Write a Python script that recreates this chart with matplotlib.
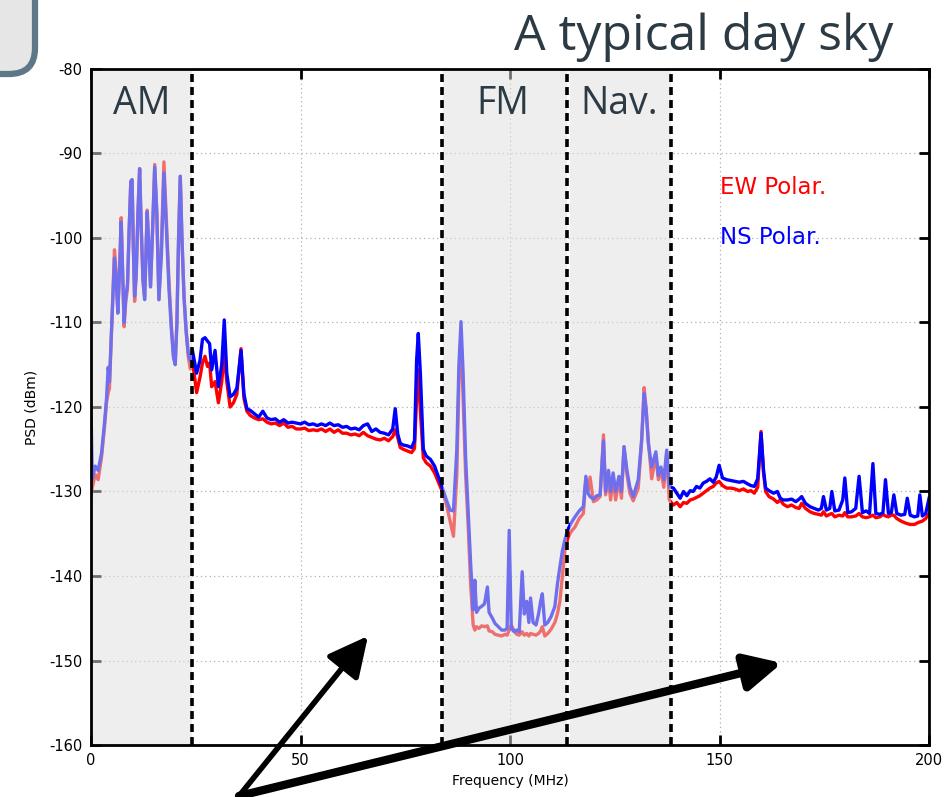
import matplotlib
matplotlib.use("Agg")
import matplotlib.pyplot as plt
from matplotlib.patches import FancyBboxPatch
from matplotlib.transforms import IdentityTransform

# Spectrum samples: frequency (MHz), EW and NS polarisation PSD (dBm)
freq_mhz = [
    0.0, 0.3, 1.0, 1.7, 2.5, 3.2, 3.7, 4.1, 4.4, 4.9, 5.6, 6.0, 6.4, 6.8, 7.2, 7.6, 7.9, 8.3, 8.7, 9.1,
    9.5, 9.8, 10.1, 10.4, 10.8, 11.2, 11.6, 12.0, 12.4, 12.8, 13.1, 13.4, 13.8, 14.2, 14.7, 15.2, 15.7, 16.2, 16.8, 17.4,
    18.0, 18.6, 19.2, 19.7, 20.1, 20.5, 20.9, 21.3, 21.7, 22.2, 22.7, 23.2, 23.7, 24.2, 25.2, 26.0, 26.6, 27.2, 27.8, 28.3,
    28.8, 29.6, 30.4, 31.2, 31.8, 32.4, 33.2, 34.0, 34.8, 35.8, 36.5, 37.2, 38.0, 39.0, 40.0, 41.0, 42.0, 43.0, 44.0, 45.0,
    46.0, 47.0, 48.0, 49.0, 50.0, 51.0, 52.0, 53.0, 54.0, 55.0, 56.0, 57.0, 58.0, 59.0, 60.0, 61.0, 62.0, 63.0, 64.0, 65.0,
    66.0, 67.0, 68.0, 69.0, 70.0, 71.0, 72.0, 72.6, 73.2, 73.8, 74.5, 75.5, 76.5, 77.2, 77.7, 78.1, 78.6, 79.3, 80.0, 81.0,
    82.0, 83.0, 84.0, 84.8, 85.7, 86.5, 87.3, 87.8, 88.3, 88.8, 89.4, 90.0, 90.6, 91.2, 91.6, 92.0, 92.6, 93.2, 93.9, 94.6,
    95.0, 95.8, 96.4, 97.2, 98.0, 98.8, 99.3, 99.8, 100.3, 101.0, 101.6, 102.2, 102.9, 103.4, 104.0, 104.5, 104.9, 105.5, 106.2, 106.8,
    107.3, 107.7, 108.3, 109.0, 109.8, 110.7, 111.3, 111.9, 112.5, 113.1, 113.8, 114.5, 115.5, 116.5, 117.5, 118.1, 118.6, 119.1, 119.9, 120.7,
    121.5, 122.3, 122.8, 123.5, 124.0, 124.6, 125.2, 126.0, 126.6, 127.2, 127.9, 128.6, 129.4, 130.6, 131.4, 132.0, 132.5, 133.0, 133.8, 134.8,
    135.4, 136.0, 136.7, 137.4, 138.0, 139.0, 139.8, 140.6, 141.4, 142.2, 143.0, 143.7, 144.5, 145.3, 146.1, 146.9, 147.7, 148.5, 149.2, 149.9,
    150.7, 151.7, 152.7, 153.7, 154.7, 155.7, 156.7, 157.5, 158.3, 159.1, 159.9, 160.5, 161.0, 161.8, 162.9, 163.8, 164.5, 165.2, 166.2, 167.2,
    168.2, 169.0, 169.6, 170.5, 171.6, 172.6, 173.6, 174.3, 174.8, 175.5, 176.3, 176.8, 177.5, 178.5, 179.4, 179.9, 180.6, 181.5, 182.5, 183.3,
    184.1, 185.0, 185.8, 186.6, 187.3, 188.3, 189.0, 189.6, 190.3, 191.0, 191.6, 192.3, 193.3, 194.2, 194.8, 195.5, 196.5, 197.3, 197.8, 198.4,
    199.2, 200.0,
]

ns_dbm = [
    -120.0, -128.5, -127.0, -127.5, -125.5, -122.0, -119.0, -115.3, -117.0, -111.0, -102.4, -105.0, -108.9, -104.0, -98.1, -105.0, -110.0, -107.0, -105.5, -99.0,
    -93.3, -93.1, -101.0, -106.9, -104.0, -97.0, -91.8, -99.0, -105.0, -107.3, -102.0, -96.9, -101.0, -105.8, -99.0, -91.6, -97.0, -107.3, -102.0, -92.3,
    -99.0, -106.0, -111.0, -114.2, -115.0, -110.0, -100.0, -92.7, -100.0, -107.0, -111.0, -113.6, -114.5, -113.3, -116.0, -114.5, -112.0, -111.8, -112.2, -112.5,
    -115.6, -113.3, -117.6, -115.0, -109.7, -116.0, -118.8, -118.5, -117.8, -113.3, -118.5, -120.2, -120.4, -120.8, -121.2, -120.5, -121.3, -121.5, -121.4, -121.8,
    -121.5, -121.9, -121.8, -121.9, -122.0, -121.8, -122.1, -122.0, -122.2, -122.0, -122.2, -121.9, -122.2, -122.1, -122.4, -122.3, -122.6, -122.5, -122.7, -122.2,
    -122.0, -122.9, -122.6, -123.0, -123.1, -123.3, -122.6, -120.2, -123.2, -124.3, -124.5, -124.6, -124.8, -124.0, -114.5, -111.3, -116.0, -125.0, -125.8, -126.2,
    -127.0, -128.4, -129.8, -131.0, -132.2, -132.3, -125.0, -115.0, -109.9, -116.0, -126.0, -132.2, -138.5, -144.0, -140.5, -144.3, -143.8, -143.6, -143.3, -141.3,
    -144.3, -145.0, -145.6, -146.0, -146.4, -146.4, -146.2, -134.6, -146.2, -146.6, -146.4, -146.6, -139.5, -144.5, -143.0, -145.5, -142.6, -145.5, -145.8, -144.5,
    -143.0, -142.1, -145.8, -145.5, -144.8, -143.6, -141.0, -138.9, -137.0, -135.7, -134.5, -133.8, -133.0, -132.3, -131.8, -128.2, -130.2, -130.6, -130.9, -130.5,
    -130.4, -124.0, -130.0, -127.5, -130.0, -127.8, -130.0, -128.2, -130.0, -124.7, -127.5, -129.5, -130.6, -128.6, -124.0, -118.4, -120.5, -124.3, -127.1, -125.3,
    -128.1, -127.1, -128.6, -125.1, -129.4, -129.6, -130.2, -130.8, -130.0, -130.5, -129.9, -130.0, -129.4, -129.6, -129.0, -128.8, -128.5, -128.9, -128.3, -126.9,
    -128.4, -128.6, -128.7, -128.8, -128.9, -128.8, -129.1, -129.3, -129.4, -128.5, -123.1, -127.5, -129.6, -129.9, -130.2, -130.0, -130.8, -131.0, -131.0, -130.9,
    -131.2, -130.9, -130.6, -131.4, -131.8, -132.0, -132.2, -132.0, -130.6, -132.2, -132.0, -130.0, -132.3, -132.2, -131.0, -128.4, -132.5, -132.4, -132.0, -128.2,
    -132.5, -132.3, -132.6, -126.7, -132.6, -132.7, -132.5, -128.6, -132.6, -132.5, -130.4, -132.6, -132.8, -132.7, -130.8, -132.8, -133.0, -132.9, -130.4, -132.9,
    -132.6, -130.8,
]

ew_dbm = [
    -130.5, -129.5, -128.0, -128.6, -126.0, -122.5, -119.5, -118.3, -117.8, -111.0, -101.4, -104.0, -108.5, -104.0, -97.6, -105.0, -110.5, -107.5, -106.0, -99.0,
    -93.3, -93.1, -101.0, -107.5, -104.5, -97.0, -91.8, -99.0, -105.0, -107.0, -102.0, -96.7, -101.0, -105.5, -99.0, -91.3, -97.0, -107.3, -101.0, -91.0,
    -98.0, -105.0, -110.5, -114.0, -114.8, -110.0, -100.0, -92.7, -100.0, -107.0, -111.0, -114.0, -115.5, -114.5, -118.3, -116.5, -114.8, -114.0, -115.2, -114.8,
    -117.6, -117.0, -119.5, -117.0, -113.6, -117.0, -120.0, -119.5, -118.5, -113.1, -119.0, -120.5, -121.0, -121.3, -121.5, -121.4, -121.8, -122.0, -121.9, -122.2,
    -121.9, -122.4, -122.3, -122.6, -122.6, -122.5, -122.8, -122.7, -122.8, -122.6, -122.9, -122.6, -123.0, -122.7, -123.1, -123.1, -123.3, -123.2, -123.4, -123.0,
    -123.4, -123.6, -123.8, -123.9, -123.7, -124.0, -123.5, -122.7, -123.6, -124.8, -125.0, -125.2, -125.4, -124.9, -119.0, -115.6, -120.5, -126.0, -126.6, -127.0,
    -127.8, -129.0, -130.2, -131.5, -133.5, -135.3, -128.0, -117.0, -111.5, -119.0, -128.0, -134.0, -141.0, -145.8, -146.4, -146.0, -146.2, -145.9, -146.0, -145.9,
    -146.5, -146.6, -146.9, -147.0, -147.1, -146.9, -147.0, -146.4, -145.8, -146.5, -146.9, -147.0, -146.6, -147.0, -146.8, -147.1, -146.8, -146.9, -147.0, -146.8,
    -146.5, -146.0, -147.1, -146.8, -146.3, -145.5, -144.5, -143.0, -140.0, -136.9, -135.5, -134.8, -134.2, -133.2, -132.6, -128.5, -130.0, -128.3, -131.2, -131.0,
    -130.6, -123.3, -130.4, -128.5, -131.0, -128.5, -131.0, -128.7, -130.8, -124.7, -128.0, -130.2, -131.1, -129.6, -124.0, -117.7, -120.3, -124.0, -128.5, -125.8,
    -128.6, -127.5, -129.5, -125.5, -131.0, -131.6, -131.3, -131.8, -131.3, -131.4, -131.0, -130.9, -130.7, -130.5, -130.2, -129.9, -129.6, -129.4, -129.0, -128.8,
    -129.3, -129.6, -129.6, -129.7, -129.9, -129.7, -130.0, -129.9, -130.2, -129.5, -122.9, -127.8, -130.0, -130.6, -130.9, -131.3, -131.0, -131.5, -131.8, -131.6,
    -131.9, -132.0, -131.4, -132.0, -132.4, -132.6, -132.7, -132.8, -132.4, -132.9, -132.7, -132.6, -133.0, -132.8, -132.9, -132.5, -133.0, -133.0, -132.9, -132.6,
    -133.0, -133.1, -133.0, -132.8, -133.1, -133.0, -132.7, -132.9, -133.0, -132.8, -132.8, -133.2, -133.5, -133.7, -133.8, -133.9, -133.9, -133.7, -133.6, -133.5,
    -133.2, -132.6,
]

# Frequency bands: names, extents and label positions
band_names = ["AM", "FM", "Nav."]
band_start = [0.0, 84.0, 114.3]
band_stop = [24.1, 113.6, 138.4]
band_label_x = [12.0, 98.3, 126.0]
band_edges = [24.1, 83.8, 113.6, 138.4]

x_ticks = [0, 50, 100, 150, 200]
y_ticks = [-80, -90, -100, -110, -120, -130, -140, -150, -160]

dark = "#2c3a44"

fig = plt.figure(figsize=(9.52, 7.97), dpi=100)
ax = fig.add_axes([0.0956, 0.06524, 0.8803, 0.8482])

ax.plot(freq_mhz, ew_dbm, color="#ff0000", lw=2.4, zorder=2)
ax.plot(freq_mhz, ns_dbm, color="#0000ff", lw=2.4, zorder=2.1)

# Translucent band shading sits over the traces
for s, e in zip(band_start, band_stop):
    ax.axvspan(s, e, color="#dfdfdf", alpha=0.5, lw=0, zorder=3)
for xe in band_edges:
    ax.axvline(xe, color="black", lw=2.6, ls=(0, (2.2, 1.4)), zorder=4)
for name, xl in zip(band_names, band_label_x):
    ax.text(xl, -84.1, name, ha="center", va="center", fontsize=27,
            family="Open Sans", color=dark, zorder=5)

ax.text(150.2, -94.0, "EW Polar.", color="#ff0000", fontsize=16.5,
        ha="left", va="center", zorder=5)
ax.text(150.2, -99.9, "NS Polar.", color="#0000ff", fontsize=16.5,
        ha="left", va="center", zorder=5)

ax.set_xlim(0, 200)
ax.set_ylim(-160, -80)
ax.set_xticks(x_ticks)
ax.set_yticks(y_ticks)
ax.set_yticklabels([str(v) for v in y_ticks])
ax.grid(True, color="#b0b0b0", lw=0.9, ls=(0, (1, 2.5)), zorder=0)
ax.set_axisbelow(True)
ax.tick_params(direction="in", length=7, width=2, top=True, right=True,
               labelsize=10.5, pad=6, colors="black")
for sp in ax.spines.values():
    sp.set_linewidth(2)
    sp.set_zorder(6)
ax.set_xlabel("Frequency (MHz)", fontsize=10)
ax.set_ylabel("PSD (dBm)", fontsize=10, labelpad=8)

# Title
fig.text(893 / 952, 1 - 37 / 797, "A typical day sky", fontsize=36,
         family="Open Sans", color=dark, ha="right", va="center")

# Rounded badge in the upper-left corner
badge = FancyBboxPatch((-60, 797 - 74), 95, 140,
                       boxstyle="round,pad=0,rounding_size=26",
                       transform=IdentityTransform(), facecolor="#e6e6e6",
                       edgecolor="#5f7888", lw=4.5, zorder=10)
fig.add_artist(badge)

# Pointer arrows
arrow_tail = (239, 797 - 796)
for tip, lw, hl, hw in [((368, 797 - 636), 4.0, 1.1, 0.55),
                        ((782, 797 - 663), 6.0, 1.0, 0.5)]:
    ax.annotate("", xy=tip, xytext=arrow_tail, xycoords="figure pixels",
                textcoords="figure pixels", annotation_clip=False,
                arrowprops=dict(arrowstyle=f"-|>,head_length={hl},head_width={hw}",
                                lw=lw, color="black", mutation_scale=22,
                                shrinkA=0, shrinkB=0), zorder=12)

fig.savefig("out.png", dpi=100)
